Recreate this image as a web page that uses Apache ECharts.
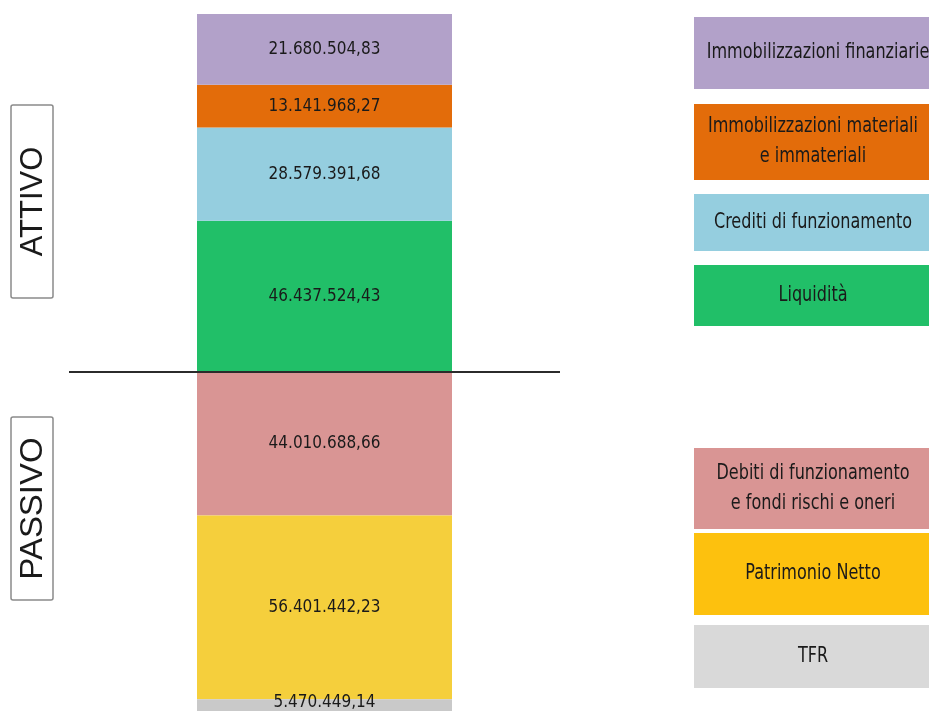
<!DOCTYPE html>
<html>
<head>
<meta charset="utf-8">
<script src="https://cdn.jsdelivr.net/npm/echarts@6/dist/echarts.min.js"></script>
<style>
html,body{margin:0;padding:0;background:#fff;}
#chart{width:929px;height:711px;}
</style>
</head>
<body>
<div id="chart"></div>
<script>
// ---- data ----
const categories = ['Stato patrimoniale'];
const attivoNames = ['Liquidità', 'Crediti di funzionamento', 'Immobilizzazioni materiali e immateriali', 'Immobilizzazioni finanziarie'];
const attivoValues = [46437524.43, 28579391.68, 13141968.27, 21680504.83];
const passivoNames = ['Debiti di funzionamento e fondi rischi e oneri', 'Patrimonio Netto', 'TFR'];
const passivoValues = [44010688.66, 56401442.23, 5470449.14];
const legendLabels = ['Immobilizzazioni finanziarie', 'Immobilizzazioni materiali\ne immateriali', 'Crediti di funzionamento', 'Liquidità',
  'Debiti di funzionamento\ne fondi rischi e oneri', 'Patrimonio Netto', 'TFR'];
const sectionLabels = ['ATTIVO', 'PASSIVO'];

// ---- styles ----
const attivoColors = ['#21bf68', '#95cedf', '#e36c0a', '#b2a1c9'];
const passivoColors = ['#d99594', '#f5cf3c', '#c9c9c9'];
const legendColors = ['#b2a1c9', '#e36c0a', '#95cedf', '#21bf68', '#d99594', '#fdc10e', '#d9d9d9'];
const narrow = "'DejaVu Sans Condensed','Liberation Sans Narrow',sans-serif";

function fmt(v) {
  v = Math.abs(v);
  const parts = v.toFixed(2).split('.');
  const intPart = parts[0].replace(/\B(?=(\d{3})+(?!\d))/g, '.');
  return intPart + ',' + parts[1];
}

const attivoTotal = attivoValues.reduce((a, b) => a + b, 0);

const labelBase = { show: true, position: 'inside', formatter: p => fmt(p.value), color: '#1a1a1a', fontSize: 17, fontFamily: narrow };
const series = [];
attivoNames.forEach((n, i) => {
  series.push({
    name: n, type: 'bar', stack: 'sp', barWidth: '100%',
    data: [attivoValues[i]],
    itemStyle: { color: attivoColors[i] },
    label: Object.assign({}, labelBase),
    silent: true
  });
});
passivoNames.forEach((n, i) => {
  series.push({
    name: n, type: 'bar', stack: 'sp', barWidth: '100%',
    data: [-passivoValues[i]],
    itemStyle: { color: passivoColors[i] },
    label: Object.assign({}, labelBase, { offset: i === 2 ? [0, -3] : [0, 0] }),
    silent: true
  });
});

// legend boxes (decoration)
const boxes = [[17, 89], [104, 180], [194, 251], [265, 326], [448, 529], [533, 615], [625, 688]];
const graphics = [];
legendLabels.forEach((t, i) => {
  const [y0, y1] = boxes[i];
  graphics.push({
    type: 'rect', shape: { x: 694, y: y0, width: 240, height: y1 - y0 },
    style: { fill: legendColors[i] }, silent: true
  });
  graphics.push({
    type: 'group', x: i === 0 ? 818 : 813, y: (y0 + y1) / 2, scaleX: 0.85, silent: true,
    children: [{
      type: 'text',
      style: { x: 0, y: 0, text: t, fill: '#1a1a1a', font: '21px ' + narrow, align: 'center', verticalAlign: 'middle', lineHeight: 30 },
      silent: true
    }]
  });
});
// section boxes
const secBoxes = [[105, 298], [417, 600]];
const secFont = [31, 32];
sectionLabels.forEach((t, i) => {
  const [y0, y1] = secBoxes[i];
  graphics.push({
    type: 'rect', shape: { x: 11, y: y0, width: 42, height: y1 - y0, r: 2 },
    style: { fill: '#fff', stroke: '#8a8a8a', lineWidth: 1.5 }, silent: true
  });
  graphics.push({
    type: 'group', x: 33, y: (y0 + y1) / 2, rotation: Math.PI / 2, scaleX: i === 1 ? 1.03 : 1.0, silent: true,
    children: [{
      type: 'text',
      style: { x: 0, y: 0, text: t, fill: '#1a1a1a', font: secFont[i] + 'px "Liberation Sans", Arial, sans-serif', align: 'center', verticalAlign: 'middle' },
      silent: true
    }]
  });
});

const chart = echarts.init(document.getElementById('chart'));
chart.setOption({
  animation: false,
  backgroundColor: '#fff',
  grid: { left: 197, right: 477, top: 14, bottom: 0 },
  xAxis: { type: 'category', data: categories, show: false, boundaryGap: true },
  yAxis: { type: 'value', min: -104000000, max: attivoTotal, show: false, splitLine: { show: false } },
  series: series,
  graphic: graphics
});
const y0px = chart.convertToPixel({ yAxisIndex: 0 }, 0);
graphics.push({
  type: 'line', shape: { x1: 69, y1: y0px, x2: 560, y2: y0px },
  style: { stroke: '#2b2b2b', lineWidth: 2 }, z: 100, silent: true
});
chart.setOption({ graphic: graphics }, { replaceMerge: ['graphic'] });
</script>
</body>
</html>
